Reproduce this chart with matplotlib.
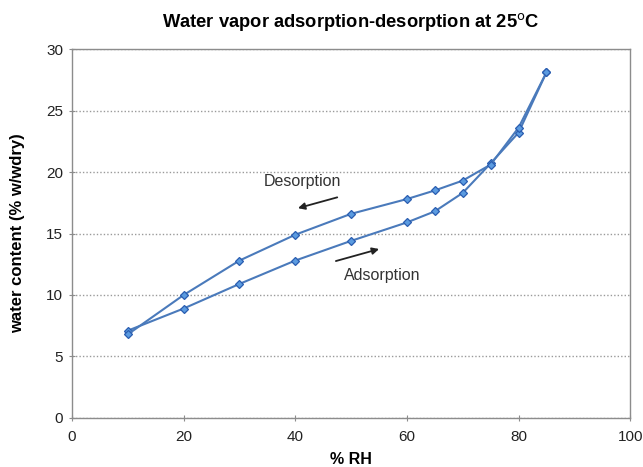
import matplotlib
matplotlib.use("Agg")
import matplotlib.pyplot as plt

plt.rcParams["font.family"] = ["Liberation Sans", "DejaVu Sans"]

# relative humidity (%) and water content (% w/wdry)
rh_ads = [10, 20, 30, 40, 50, 60, 65, 70, 75, 80, 85]
wc_ads = [7.1, 8.9, 10.9, 12.8, 14.4, 15.9, 16.8, 18.3, 20.7, 23.2, 28.1]

rh_des = [85, 80, 75, 70, 65, 60, 50, 40, 30, 20, 10]
wc_des = [28.1, 23.6, 20.6, 19.3, 18.5, 17.8, 16.6, 14.9, 12.8, 10.0, 6.8]

line_color = "#4a7abb"
axis_color = "#8c8c8c"

fig = plt.figure(figsize=(6.43, 4.67), dpi=100)
ax = fig.add_axes([0.112, 0.105, 0.868, 0.79])

for rh, wc in [(rh_ads, wc_ads), (rh_des, wc_des)]:
    ax.plot(rh, wc, color=line_color, linewidth=1.5, marker="D", markersize=4,
            markerfacecolor="#5b9be0", markeredgecolor="#2a5db0",
            markeredgewidth=0.9)

ax.set_xlim(0, 100)
ax.set_ylim(0, 30)
ax.set_xticks(range(0, 101, 20))
ax.set_yticks(range(0, 31, 5))
ax.yaxis.grid(True, color="#9a9a9a", linestyle=(0, (1, 1.5)), linewidth=1.0)

for side in ["left", "right", "top", "bottom"]:
    ax.spines[side].set_color(axis_color)
    ax.spines[side].set_linewidth(1.0)

ax.tick_params(direction="inout", length=5, color=axis_color, labelsize=11,
               labelcolor="#222222")
ax.tick_params(axis="x", pad=6)
ax.tick_params(axis="y", pad=4)

ax.set_title("Water vapor adsorption-desorption at 25$^{\\mathrm{o}}$C",
             fontsize=13.2, fontweight="bold", pad=16)
ax.set_xlabel("% RH", fontsize=11.5, fontweight="bold", labelpad=6)
ax.set_ylabel("water content (% w/wdry)", fontsize=12, fontweight="bold", labelpad=15)

# annotations
ax.text(41.2, 19.2, "Desorption", fontsize=11.5, ha="center", va="center", color="#333333")
ax.annotate("", xy=(40.0, 17.0), xytext=(48.0, 18.0),
            arrowprops=dict(arrowstyle="-|>", color="#222222", lw=1.3,
                            mutation_scale=10))
ax.text(55.6, 11.6, "Adsorption", fontsize=11.5, ha="center", va="center", color="#333333")
ax.annotate("", xy=(55.5, 13.8), xytext=(46.8, 12.7),
            arrowprops=dict(arrowstyle="-|>", color="#222222", lw=1.3,
                            mutation_scale=10))

fig.savefig("out.png", dpi=100)
